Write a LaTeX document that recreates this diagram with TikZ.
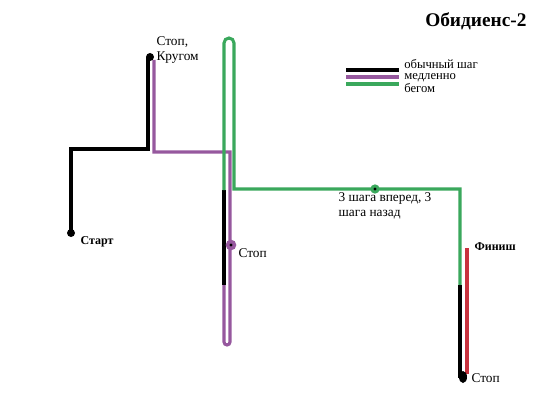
\documentclass[tikz,border=0pt]{standalone}
\usepackage{fontspec}
\setmainfont{Liberation Serif}
\usetikzlibrary{positioning,shapes.geometric}

\definecolor{slowcol}{RGB}{150,88,158}
\definecolor{runcol}{RGB}{58,168,92}
\definecolor{fincol}{RGB}{200,50,62}

\tikzset{
  walk/.style={line width=2.3pt, draw=black},
  slow/.style={line width=2.3pt, draw=slowcol},
  run/.style={line width=2.3pt, draw=runcol},
  fin/.style={line width=2.3pt, draw=fincol},
  spot/.style={circle, fill=black, inner sep=0pt, minimum size=6pt},
  lbl/.style={font=\fontsize{10}{11.5}\selectfont, inner sep=1pt, align=left},
}

\begin{document}
\begin{tikzpicture}[x=0.75pt, y=-0.75pt]
    \useasboundingbox (0,0) rectangle (559,403);
    % title and legend
    \node[font=\bfseries\fontsize{14.5}{16}\selectfont, anchor=west, inner sep=0pt] (title) at (425,21) {Обидиенс-2};
    \coordinate (lw1) at (346,70); \coordinate (lw2) at (399,70);
    \coordinate (ls1) at (346,77); \coordinate (ls2) at (399,77);
    \coordinate (lr1) at (346,84); \coordinate (lr2) at (399,84);
    \draw[walk] (lw1) -- (lw2);
    \draw[slow] (ls1) -- (ls2);
    \draw[run] (lr1) -- (lr2);
    \node[lbl, anchor=north west, inner sep=0pt, font=\fontsize{9.5}{8.4}\selectfont] (legend) at (404,59) {обычный шаг\\медленно\\бегом};

    % corners of the route
    \coordinate (start) at (71,233);
    \coordinate (a1) at (71,149);
    \coordinate (a2) at (148,149);
    \coordinate (turn) at (148,57);
    \coordinate (b1) at (154,60);
    \coordinate (b2) at (154,152);
    \coordinate (b3) at (230,152);
    \coordinate (b4) at (230,342);
    \coordinate (b5) at (224,285);
    \coordinate (c1) at (224,190);
    \coordinate (c2) at (224,43);
    \coordinate (c3) at (234,189);
    \coordinate (c4) at (460,189);
    \coordinate (c5) at (460,285);
    \coordinate (end) at (460,378);
    \coordinate (f1) at (467,248);
    \coordinate (f2) at (467,374);

    % route
    \draw[walk] (start) -- (a1) -- (a2) -- (turn);
    \draw[walk] (c1) -- (b5);
    \draw[slow] (b1) -- (b2) -- (b3) -- (b4) arc[start angle=0, end angle=180, radius=3] -- (b5);
    \draw[run] (c1) -- (c2) arc[start angle=180, end angle=360, radius=5] -- (c3) -- (c4) -- (c5);
    \draw[walk] (c5) -- (end);
    \draw[fin] (f1) -- (f2);

    % stops
    \node[spot] (startdot) at (start) {};
    \node[spot] (turndot) at (150,57) {};
    \node[circle, fill=slowcol, inner sep=0pt, minimum size=8pt] (stop1) at (231,245) {};
    \fill (stop1) circle (1.2pt);
    \node[circle, fill=runcol, inner sep=0pt, minimum size=7pt] (back) at (375,189) {};
    \fill (back) circle (1.2pt);
    \node[spot, ellipse, minimum width=6pt, minimum height=9pt] (enddot) at (463,377) {};

    % labels
    \node[lbl, anchor=north west] (turnlbl) at (155,35) {Стоп,\\Кругом};
    \node[lbl, anchor=west, font=\bfseries\fontsize{9}{10}\selectfont] (startlbl) at (79,242) {Старт};
    \node[lbl, anchor=west] (stop1lbl) at (237,253) {Стоп};
    \node[lbl, anchor=north west] (backlbl) at (337,191) {3 шага вперед, 3\\шага назад};
    \node[lbl, anchor=west, font=\bfseries\fontsize{9}{10}\selectfont] (finlbl) at (473,247) {Финиш};
    \node[lbl, anchor=west] (endlbl) at (470,378) {Стоп};
\end{tikzpicture}
\end{document}
